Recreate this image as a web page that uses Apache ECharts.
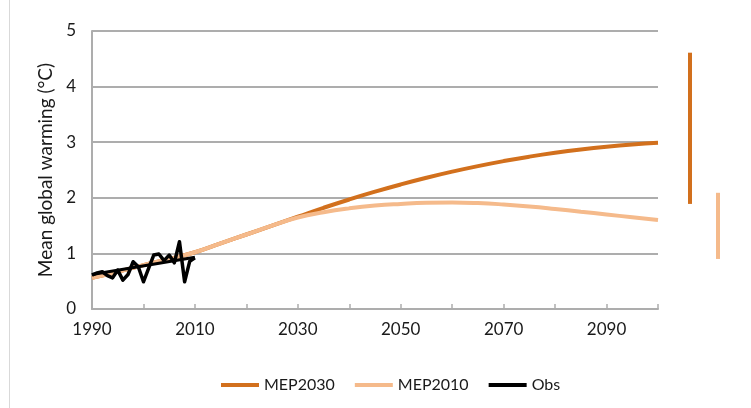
<!DOCTYPE html>
<html>
<head>
<meta charset="utf-8">
<script src="https://cdn.jsdelivr.net/npm/echarts@6/dist/echarts.min.js"></script>
<style>
  html, body { margin: 0; padding: 0; background: #fff; }
  #chart { width: 751px; height: 408px; }
</style>
</head>
<body>
<div id="chart"></div>
<script>
// Projection years (5-year steps) and warming (°C) per scenario
const years = [1990, 1995, 2000, 2005, 2010, 2015, 2020, 2025, 2030, 2035, 2040, 2045,
               2050, 2055, 2060, 2065, 2070, 2075, 2080, 2085, 2090, 2095, 2100];
const mep2030 = [0.56, 0.67, 0.79, 0.90, 1.02, 1.18, 1.34, 1.50, 1.66, 1.82, 1.97, 2.11,
                 2.24, 2.36, 2.47, 2.57, 2.66, 2.74, 2.81, 2.87, 2.92, 2.96, 2.99];
const mep2010 = [0.56, 0.67, 0.79, 0.90, 1.02, 1.18, 1.34, 1.50, 1.645, 1.74, 1.81, 1.86,
                 1.89, 1.91, 1.915, 1.905, 1.88, 1.845, 1.80, 1.75, 1.70, 1.65, 1.60];

// Observed annual warming
const obsYears = [1990, 1991, 1992, 1993, 1994, 1995, 1996, 1997, 1998, 1999, 2000,
                  2001, 2002, 2003, 2004, 2005, 2006, 2007, 2008, 2009, 2010];
const obs = [0.61, 0.65, 0.67, 0.60, 0.56, 0.70, 0.52, 0.62, 0.85, 0.76, 0.49,
             0.73, 0.97, 0.99, 0.87, 0.97, 0.83, 1.21, 0.49, 0.86, 0.92];
// Observed linear trend end points
const obsTrendYears = [1990, 2010];
const obsTrend = [0.62, 0.93];

// Likely 2100 ranges per scenario
const rangeNames = ['MEP2030', 'MEP2010'];
const rangeLow = [1.89, 0.90];
const rangeHigh = [4.61, 2.09];

const C_DARK = '#D2701D';
const C_LIGHT = '#F5BA8B';
const C_OBS = '#000000';
const GRID = '#ADADAD';
const TXT = '#1a1a1a';
const FONT = 'Lato';

const zip = (xs, ys) => xs.map((x, i) => [x, ys[i]]);

const chart = echarts.init(document.getElementById('chart'), null, { renderer: 'canvas' });

chart.setOption({
  backgroundColor: '#ffffff',
  animation: false,
  textStyle: { fontFamily: FONT, color: TXT },
  graphic: [{
    type: 'line', shape: { x1: 9.5, y1: 0, x2: 9.5, y2: 408 },
    style: { stroke: '#D9D9D9', lineWidth: 1 }, silent: true
  }],
  legend: {
    left: 216, top: 372,
    itemWidth: 38, itemHeight: 4, itemGap: 20,
    icon: 'rect',
    textStyle: { fontFamily: FONT, fontSize: 16, color: TXT },
    data: ['MEP2030', 'MEP2010', 'Obs']
  },
  grid: [
    { left: 92, right: 93, top: 31, bottom: 99 },
    { left: 676, width: 56, top: 31, bottom: 99 }
  ],
  xAxis: [{
    type: 'value', gridIndex: 0, min: 1990, max: 2100, interval: 10,
    axisLine: { show: true, lineStyle: { color: GRID, width: 2 } },
    axisTick: { show: true, inside: true, length: 5, lineStyle: { color: GRID, width: 1.5 } },
    axisLabel: {
      fontFamily: FONT, fontSize: 17, color: TXT, margin: 12,
      formatter: v => ((v - 1990) % 20 === 0 ? String(v) : '')
    },
    splitLine: { show: false }
  }, {
    type: 'category', gridIndex: 1, data: rangeNames, boundaryGap: true,
    show: false
  }],
  yAxis: [{
    type: 'value', gridIndex: 0, min: 0, max: 5, interval: 1,
    name: 'Mean global warming (°C)', nameLocation: 'middle', nameGap: 35,
    nameTextStyle: { fontFamily: FONT, fontSize: 19, color: TXT },
    axisLine: { show: true, lineStyle: { color: GRID, width: 2 } },
    axisTick: { show: false },
    axisLabel: { fontFamily: FONT, fontSize: 17, color: TXT, margin: 16 },
    splitLine: { show: true, lineStyle: { color: GRID, width: 2 } }
  }, {
    type: 'value', gridIndex: 1, min: 0, max: 5, show: false
  }],
  series: [{
    name: 'MEP2030', type: 'line', xAxisIndex: 0, yAxisIndex: 0,
    data: zip(years, mep2030), smooth: 0.5, showSymbol: false,
    lineStyle: { color: C_DARK, width: 4 }, itemStyle: { color: C_DARK }
  }, {
    name: 'MEP2010', type: 'line', xAxisIndex: 0, yAxisIndex: 0,
    data: zip(years, mep2010), smooth: 0.5, showSymbol: false,
    lineStyle: { color: C_LIGHT, width: 4 }, itemStyle: { color: C_LIGHT }
  }, {
    name: 'Obs', type: 'line', xAxisIndex: 0, yAxisIndex: 0,
    data: zip(obsTrendYears, obsTrend), showSymbol: false,
    lineStyle: { color: C_OBS, width: 3 }, itemStyle: { color: C_OBS }
  }, {
    name: 'Obs', type: 'line', xAxisIndex: 0, yAxisIndex: 0,
    data: zip(obsYears, obs), showSymbol: false,
    lineStyle: { color: C_OBS, width: 3.5, join: 'round' }, itemStyle: { color: C_OBS }
  }, {
    name: 'range', type: 'custom', xAxisIndex: 1, yAxisIndex: 1,
    data: rangeNames.map((n, i) => [i, rangeLow[i], rangeHigh[i]]),
    renderItem: (params, api) => {
      const lo = api.coord([api.value(0), api.value(1)]);
      const hi = api.coord([api.value(0), api.value(2)]);
      return {
        type: 'rect',
        shape: { x: lo[0] - 2, y: hi[1], width: 4, height: lo[1] - hi[1] },
        style: { fill: params.dataIndex === 0 ? C_DARK : C_LIGHT }
      };
    }
  }]
});
</script>
</body>
</html>
